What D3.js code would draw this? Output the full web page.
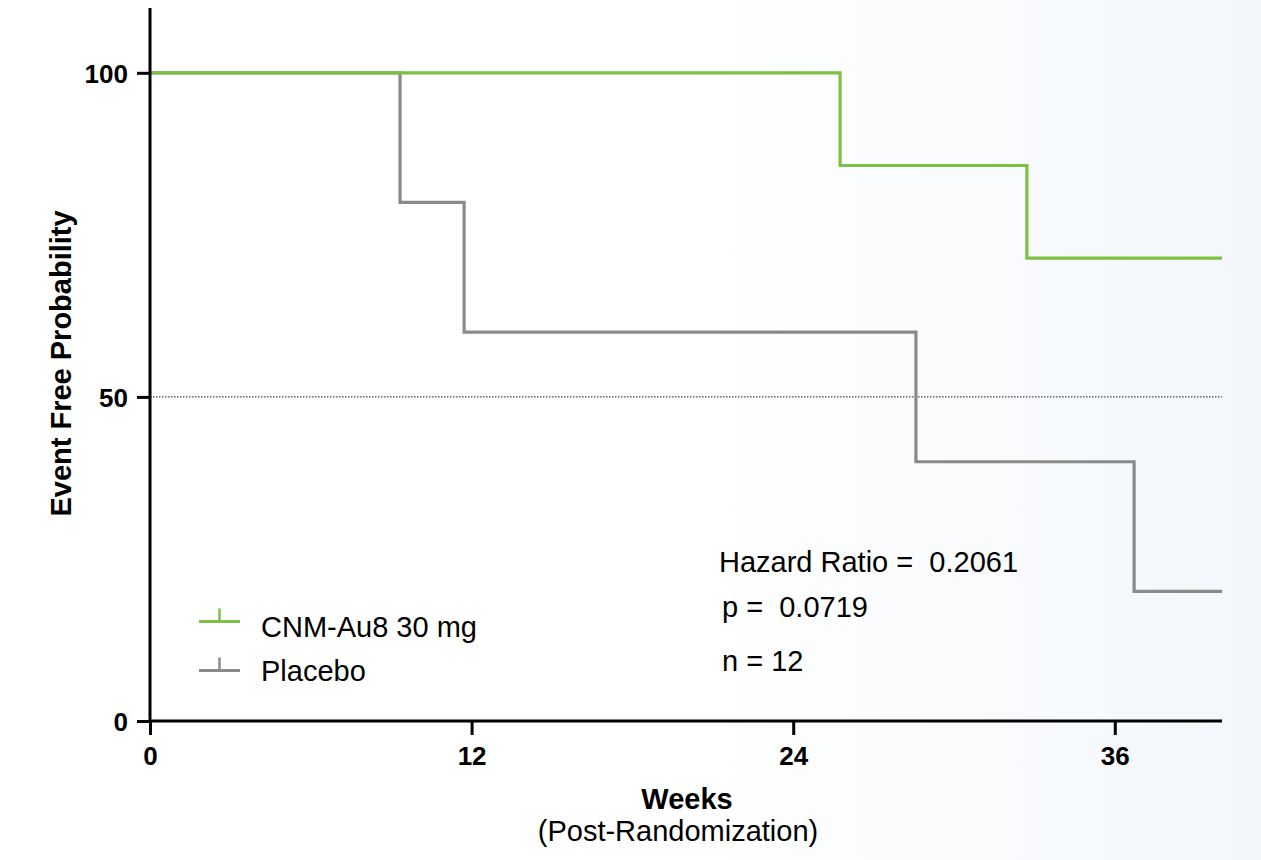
<!DOCTYPE html>
<html>
<head>
<meta charset="utf-8">
<script src="https://cdn.jsdelivr.net/npm/d3@7"></script>
<style>
  html, body { margin: 0; padding: 0; background: #fff; }
  svg { display: block; font-family: "Liberation Sans", Arial, sans-serif; }
  text { white-space: pre; }
</style>
</head>
<body>
<svg id="chart" width="1261" height="860"></svg>
<script>
// survival data (weeks / percent event free)
const cnmWeeks = [0, 25.75, 32.72, 40]
const cnmValues = [100, 85.7, 71.4, 71.4]
const placeboWeeks = [0, 9.33, 11.72, 28.58, 36.72, 40]
const placeboValues = [100, 80, 60, 40, 20, 20]

const xTicks = [0, 12, 24, 36]
const yTicks = [0, 50, 100]

const seriesNames = ['CNM-Au8 30 mg', 'Placebo']
const seriesColors = ['#7cc142', '#8a8a8a']
const statsLines = ['Hazard Ratio =  0.2061', 'p =  0.0719', 'n = 12']

const svg = d3.select('#chart')
const width = 1261, height = 860
const margin = {left: 150, right: 39, top: 8, bottom: 139}

// faint slide background on the right
const defs = svg.append('defs')
const grad = defs.append('linearGradient').attr('id', 'bg').attr('x1', '0%').attr('x2', '100%')
grad.append('stop').attr('offset', '0%').attr('stop-color', '#ffffff')
grad.append('stop').attr('offset', '55%').attr('stop-color', '#ffffff')
grad.append('stop').attr('offset', '100%').attr('stop-color', '#f3f7fb')
svg.append('rect').attr('width', width).attr('height', height).attr('fill', 'url(#bg)')

const x = d3.scaleLinear().domain([0, 40]).range([margin.left, width - margin.right])
const y = d3.scaleLinear().domain([0, 110]).range([height - margin.bottom, margin.top])

// dotted median line
svg.append('line')
  .attr('x1', x(0)).attr('x2', x(40))
  .attr('y1', y(50)).attr('y2', y(50))
  .attr('stroke', '#444').attr('stroke-width', 1.2)
  .attr('stroke-dasharray', '1.5,1.5')

const line = d3.line()
  .x(d => x(d[0]))
  .y(d => y(d[1]))
  .curve(d3.curveStepAfter)

const series = [
  d3.zip(placeboWeeks, placeboValues),
  d3.zip(cnmWeeks, cnmValues)
]
const seriesColor = [seriesColors[1], seriesColors[0]]

svg.selectAll('path.km')
  .data(series)
  .join('path')
  .attr('class', 'km')
  .attr('d', line)
  .attr('fill', 'none')
  .attr('stroke', (d, i) => seriesColor[i])
  .attr('stroke-width', 3.2)

// axes
const xAxis = svg.append('g')
  .attr('transform', `translate(0,${y(0)})`)
  .call(d3.axisBottom(x).tickValues(xTicks).tickSize(14).tickPadding(12).tickSizeOuter(0))
const yAxis = svg.append('g')
  .attr('transform', `translate(${x(0)},0)`)
  .call(d3.axisLeft(y).tickValues(yTicks).tickSize(13).tickPadding(9).tickSizeOuter(0))

;[xAxis, yAxis].forEach(g => {
  g.select('.domain').attr('stroke', '#000').attr('stroke-width', 3)
  g.selectAll('.tick line').attr('stroke', '#000').attr('stroke-width', 3)
  g.selectAll('.tick text')
    .attr('fill', '#000')
    .style('font-size', '26px')
    .style('font-weight', 'bold')
    .style('font-family', '"Liberation Sans", Arial, sans-serif')
})
yAxis.selectAll('.tick text').attr('dy', '0.36em')
// x domain should span full plot width
xAxis.select('.domain').attr('d', `M${x(0)},0H${x(40)}`)
yAxis.select('.domain').attr('d', `M0,${y(110)}V${y(0)}`)

// axis titles
svg.append('text')
  .attr('transform', `translate(71,${(y(0) + y(110)) / 2 - 1}) rotate(-90)`)
  .attr('text-anchor', 'middle')
  .style('font-size', '29px').style('font-weight', 'bold')
  .text('Event Free Probability')

svg.append('text')
  .attr('x', 687).attr('y', 809)
  .attr('text-anchor', 'middle')
  .style('font-size', '29px').style('font-weight', 'bold')
  .text('Weeks')
svg.append('text')
  .attr('x', 678).attr('y', 841)
  .attr('text-anchor', 'middle')
  .style('font-size', '29px')
  .text('(Post-Randomization)')

// legend
const legendRowY = [621.5, 670.5]
const legendTextY = [636.5, 680.5]
seriesNames.forEach((name, i) => {
  const g = svg.append('g').attr('transform', `translate(199,${legendRowY[i]})`)
  g.append('line').attr('x1', 0).attr('x2', 41).attr('y1', 0).attr('y2', 0)
    .attr('stroke', seriesColors[i]).attr('stroke-width', 3)
  g.append('line').attr('x1', 20.5).attr('x2', 20.5).attr('y1', 0).attr('y2', -13)
    .attr('stroke', seriesColors[i]).attr('stroke-width', 2.5)
  g.append('text').attr('x', 62).attr('y', legendTextY[i] - legendRowY[i])
    .style('font-size', '29px')
    .text(name)
})

// stats annotation
const statsY = [572, 617, 671]
const statsX = [719, 722, 722]
statsLines.forEach((s, i) => {
  svg.append('text')
    .attr('x', statsX[i]).attr('y', statsY[i])
    .style('font-size', '29px')
    .text(s)
})
</script>
</body>
</html>
